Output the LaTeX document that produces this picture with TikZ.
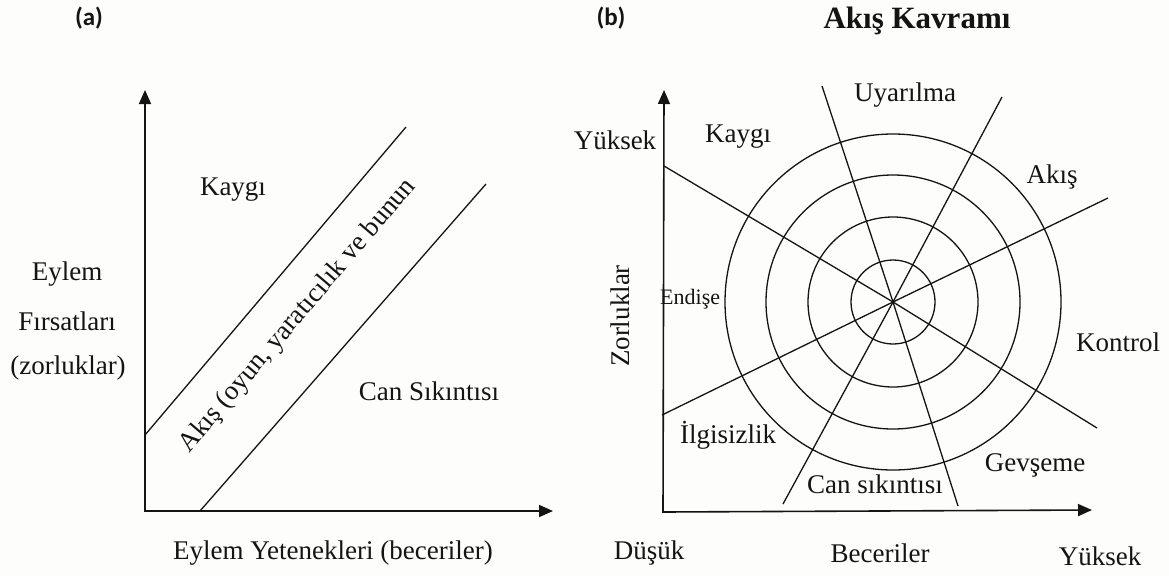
\documentclass[tikz,border=0pt]{standalone}
\usepackage{fontspec}
\setmainfont{Liberation Serif}
\newfontfamily\panelfont{Carlito}
\usetikzlibrary{arrows.meta}
\definecolor{paper}{RGB}{253,253,251}
\definecolor{ink}{RGB}{20,20,20}
\begin{document}
\begin{tikzpicture}[x=1pt,y=-1pt,
  txt/.style={font=\fontsize{27}{30}\selectfont, text=ink, inner sep=0pt},
  small/.style={font=\fontsize{22}{24}\selectfont, text=ink, inner sep=0pt},
  panel/.style={font=\panelfont\bfseries\fontsize{25}{27}\selectfont, text=ink, inner sep=0pt},
  title/.style={font=\bfseries\fontsize{31}{34}\selectfont, text=ink, inner sep=0pt},
  axes/.style={draw=ink, line width=1.6pt, {Triangle[length=14pt,width=12pt]}-{Triangle[length=14pt,width=12pt]}},
  ray/.style={draw=ink, line width=1.3pt},
  ring/.style={draw=ink, line width=1.3pt}]
\fill[paper] (0,0) rectangle (1169,576);
\useasboundingbox (0,0) rectangle (1169,576);

% ---------- (a) flow channel ----------
\node[panel] (pa) at (89,18) {(a)};
\coordinate (aO) at (145,511);
\coordinate (aY) at (145,90);
\coordinate (aX) at (553,511);
\draw[axes] (aY) -- (aO) -- (aX);

\coordinate (u1) at (145,435);
\coordinate (u2) at (406,127);
\coordinate (w1) at (200,511);
\coordinate (w2) at (486,184);
\draw[ray] (u1) -- (u2);
\draw[ray] (w1) -- (w2);

\node[txt] (kaygiA) at (233,190) {Kaygı};
\node[txt] (canA) at (429,391) {Can Sıkıntısı};
\node[txt, rotate=49.6] (akisA) at (298,316) {Akış (oyun, yaratıcılık ve bunun};
\node[txt] (ey1) at (67,274) {Eylem};
\node[txt] (ey2) at (67,321) {Fırsatları};
\node[txt] (ey3) at (68,368) {(zorluklar)};
\node[txt] (xlabA) at (333,553) {Eylem Yetenekleri (beceriler)};

% ---------- (b) flow concept wheel ----------
\node[panel] (pb) at (611,18) {(b)};
\node[title] (tb) at (917,21) {Akış Kavramı};
\coordinate (bO) at (663,512);
\coordinate (bY) at (664,90);
\coordinate (bX) at (1092,510);
\draw[axes] (bY) -- (bO) -- (bX);

\coordinate (c) at (893,302);
\foreach \r in {42,85,127,168} \draw[ring] (c) circle[radius=\r];

\coordinate (p1) at (664,166);  \coordinate (q1) at (1097,428);
\coordinate (p2) at (662,415);  \coordinate (q2) at (1108,198);
\coordinate (p3) at (822,86);   \coordinate (q3) at (958,506);
\coordinate (p4) at (1002,97);  \coordinate (q4) at (783,504);
\draw[ray] (p1) -- (c) -- (q1);
\draw[ray] (p2) -- (c) -- (q2);
\draw[ray] (p3) -- (c) -- (q3);
\draw[ray] (p4) -- (c) -- (q4);

\node[txt] (uyar) at (905,95) {Uyarılma};
\node[txt] (yukU) at (615,140) {Yüksek};
\node[txt] (kaygiB) at (738,137) {Kaygı};
\node[txt] (akisB) at (1052,177) {Akış};
\node[txt] (kontrol) at (1118,342) {Kontrol};
\node[small, anchor=west] (endise) at (660,299) {Endişe};
\node[txt, rotate=90] (zor) at (620,316) {Zorluklar};
\node[txt] (ilgi) at (728,435) {İlgisizlik};
\node[txt] (canB) at (875,484) {Can sıkıntısı};
\node[txt] (gevs) at (1035,465) {Gevşeme};
\node[txt] (dusuk) at (649,553) {Düşük};
\node[txt] (becer) at (880,553) {Beceriler};
\node[txt] (yukD) at (1100,556) {Yüksek};
\end{tikzpicture}
\end{document}
